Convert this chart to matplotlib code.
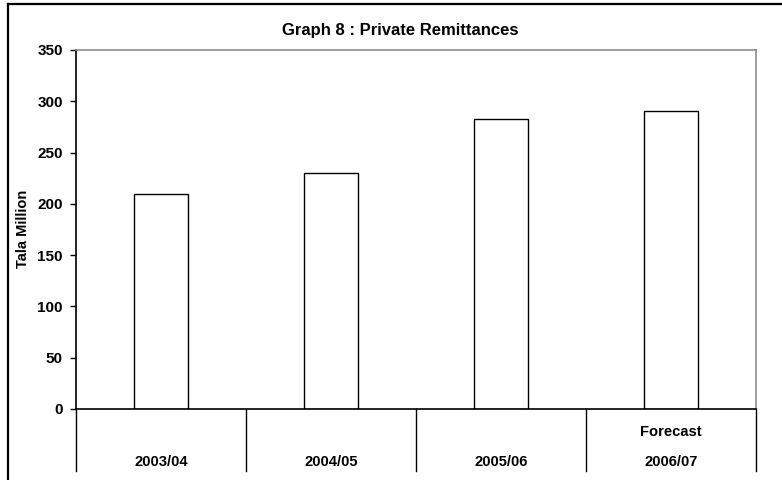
import matplotlib
matplotlib.use("Agg")
import matplotlib.pyplot as plt
from matplotlib.lines import Line2D
import matplotlib.transforms as mtransforms

plt.rcParams['font.family'] = ['Liberation Sans', 'DejaVu Sans']
plt.rcParams['font.weight'] = 'bold'

# Data
years = ["2003/04", "2004/05", "2005/06", "2006/07"]
remittances = [210, 230, 283, 291]
notes = ["", "", "", "Forecast"]
y_ticks = [0, 50, 100, 150, 200, 250, 300, 350]

fig = plt.figure(figsize=(7.82, 4.8), dpi=100)
ax = fig.add_axes([76 / 782, 1 - 409 / 480, 680 / 782, 359 / 480])

x = range(len(years))
ax.bar(x, remittances, width=0.32, color="white", edgecolor="black", linewidth=1.0)

ax.set_xlim(-0.5, len(years) - 0.5)
ax.set_ylim(0, 350)
ax.set_yticks(y_ticks)
ax.set_yticklabels([str(v) for v in y_ticks], fontsize=11, fontweight="bold")
ax.tick_params(axis="y", direction="out", length=4, width=1, color="black", pad=5.5)
ax.set_xticks([])

ax.spines["left"].set_color("black")
ax.spines["left"].set_linewidth(1.2)
ax.spines["bottom"].set_color("black")
ax.spines["bottom"].set_linewidth(1.2)
ax.spines["top"].set_color("#8c8c8c")
ax.spines["top"].set_linewidth(1.2)
ax.spines["right"].set_color("#8c8c8c")
ax.spines["right"].set_linewidth(1.2)

fig.text(23 / 782, 1 - 229 / 480, "Tala Million", rotation=90, ha="center", va="center",
         fontsize=10.5, fontweight="bold")
fig.text(400 / 782, 1 - 35 / 480, "Graph 8 : Private Remittances", ha="center",
         va="baseline", fontsize=12, fontweight="bold")

# Category table below the axis
trans = mtransforms.blended_transform_factory(ax.transData, ax.transAxes)
sep_bottom = -62 / 359
for b in [i - 0.5 for i in range(len(years) + 1)]:
    ax.add_line(Line2D([b, b], [0, sep_bottom], transform=trans, color="black",
                       linewidth=1.0, clip_on=False))
for i, (yr, note) in enumerate(zip(years, notes)):
    ax.text(i, -53 / 359, yr, transform=trans, ha="center", va="center",
            fontsize=10.6, fontweight="bold")
    if note:
        ax.text(i, -23 / 359, note, transform=trans, ha="center", va="center",
                fontsize=10.6, fontweight="bold")

# Outer frame (left and top edges)
fig.add_artist(Line2D([8 / 782, 8 / 782], [0, 1 - 4 / 480], transform=fig.transFigure,
                      color="black", linewidth=1.6))
fig.add_artist(Line2D([8 / 782, 1], [1 - 4 / 480, 1 - 4 / 480], transform=fig.transFigure,
                      color="black", linewidth=1.6))

fig.savefig("out.png", dpi=100)
